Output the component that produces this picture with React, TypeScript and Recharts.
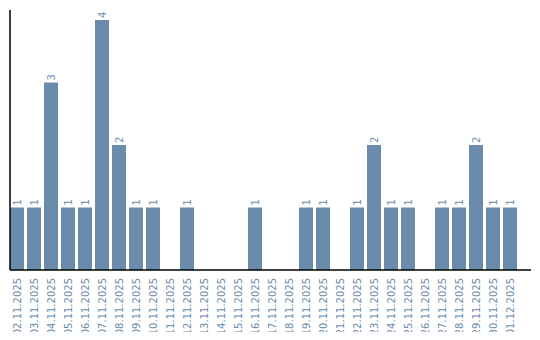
import React from 'react';
import { BarChart, Bar, XAxis, YAxis, LabelList } from 'recharts';

const days = [
  '02.11.2025', '03.11.2025', '04.11.2025', '05.11.2025', '06.11.2025',
  '07.11.2025', '08.11.2025', '09.11.2025', '10.11.2025', '11.11.2025',
  '12.11.2025', '13.11.2025', '14.11.2025', '15.11.2025', '16.11.2025',
  '17.11.2025', '18.11.2025', '19.11.2025', '20.11.2025', '21.11.2025',
  '22.11.2025', '23.11.2025', '24.11.2025', '25.11.2025', '26.11.2025',
  '27.11.2025', '28.11.2025', '29.11.2025', '30.11.2025', '01.12.2025',
];
const counts = [1, 1, 3, 1, 1, 4, 2, 1, 1, 0, 1, 0, 0, 0, 1, 0, 0, 1, 1, 0, 1, 2, 1, 1, 0, 1, 1, 2, 1, 1];

const data = days.map((d, i) => ({ day: d, count: counts[i] }));

const blue = '#6a8bac';
const font = '"DejaVu Sans", sans-serif';

const DayTick = (props: any) => {
  const { x, y, payload } = props;
  const tx = x + 4;
  const ty = y;
  return (
    <text
      x={tx}
      y={ty}
      transform={`rotate(-90, ${tx}, ${ty})`}
      textAnchor="end"
      fill={blue}
      fontSize={10}
      fontFamily={font}
    >
      {payload.value}
    </text>
  );
};

const ValueLabel = (props: any) => {
  const { x, y, width, value } = props;
  if (!value) return null;
  const cx = x + width / 2 + 4;
  const cy = y - 2;
  return (
    <text
      x={cx}
      y={cy}
      transform={`rotate(-90, ${cx}, ${cy})`}
      textAnchor="start"
      fill={blue}
      fontSize={10}
      fontFamily={font}
    >
      {value}
    </text>
  );
};

export default function App() {
  return (
    <div style={{ margin: -8, width: 540, height: 340 }}>
      <BarChart
        width={540}
        height={340}
        data={data}
        margin={{ top: 10, right: 9, left: 9, bottom: 0 }}
        barCategoryGap={1.5}
      >
        <XAxis
          dataKey="day"
          interval={0}
          height={70}
          tickLine={false}
          axisLine={{ stroke: '#000', strokeWidth: 1.5 }}
          tick={<DayTick />}
          padding={{ left: -1.5, right: 12.5 }}
        />
        <YAxis
          width={1}
          domain={[0, 4]}
          tick={false}
          tickLine={false}
          axisLine={{ stroke: '#000', strokeWidth: 1.5 }}
          padding={{ top: 10, bottom: 0 }}
        />
        <Bar dataKey="count" fill={blue} isAnimationActive={false}>
          <LabelList dataKey="count" content={<ValueLabel />} />
        </Bar>
      </BarChart>
    </div>
  );
}
